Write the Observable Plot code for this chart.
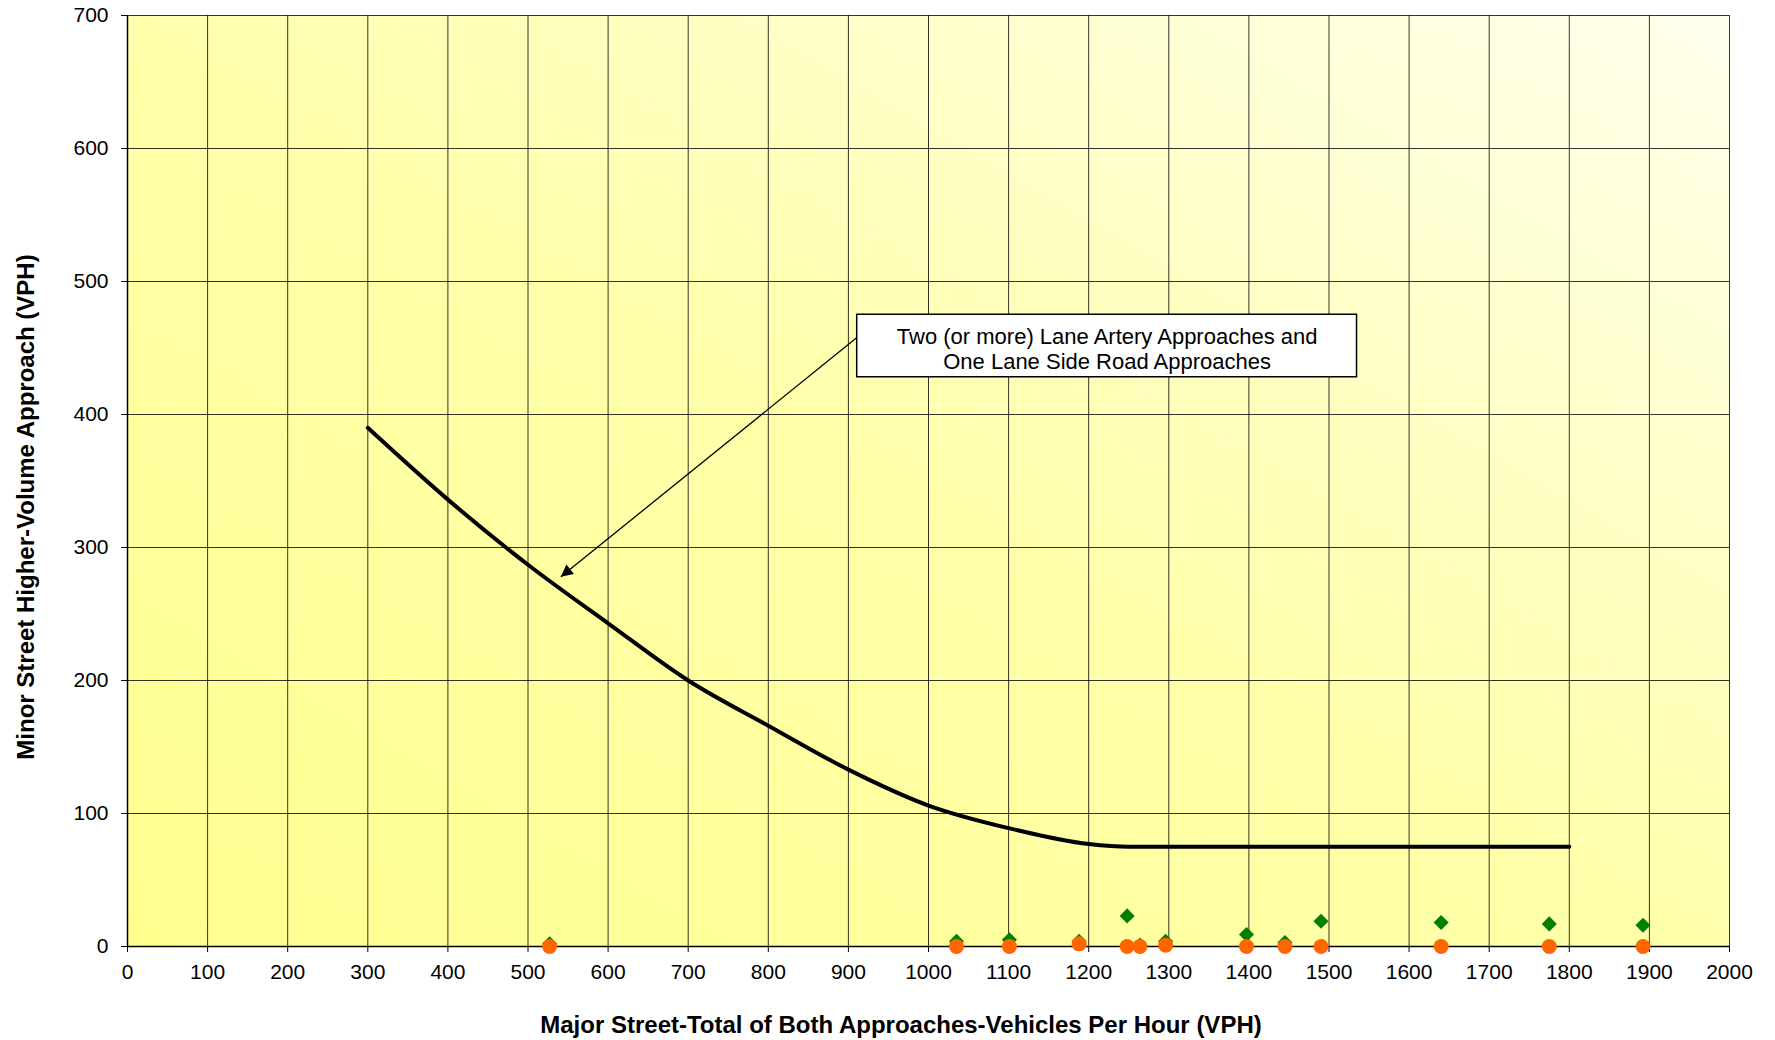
<!DOCTYPE html>
<html>
<head>
<meta charset="utf-8">
<script src="https://cdn.jsdelivr.net/npm/d3@7"></script>
<script src="https://cdn.jsdelivr.net/npm/@observablehq/plot@0.6"></script>
<style>
  html, body { margin: 0; padding: 0; background: #ffffff; }
  #chart { width: 1775px; height: 1040px; }
</style>
</head>
<body>
<div id="chart"></div>
<script>
// ---- data ----
const xTicks = [0, 100, 200, 300, 400, 500, 600, 700, 800, 900, 1000, 1100, 1200, 1300, 1400, 1500, 1600, 1700, 1800, 1900, 2000];
const yTicks = [0, 100, 200, 300, 400, 500, 600, 700];

// warrant curve: Two (or more) lane artery & one lane side road
const curveMajor = [300, 400, 500, 600, 700, 800, 900, 1000, 1100, 1200, 1250, 1300, 1400, 1500, 1600, 1700, 1800];
const curveMinor = [390, 336, 287, 243, 200, 166, 133, 106, 89, 77, 75, 75, 75, 75, 75, 75, 75];

// observed sites
const siteMajor = [527, 1035, 1101, 1188, 1248, 1264, 1296, 1397, 1445, 1490, 1640, 1775, 1892];
const siteGreen = [2, 4, 5, 4, 23, 1, 4, 9, 3, 19, 18, 17, 16];
const siteOrange = [0, 0, 0, 2, 0, 0, 1, 0, 0, 0, 0, 0, 0];

// annotation
const annotationLines = ["Two (or more) Lane Artery Approaches and", "One Lane Side Road Approaches"];
const annotationBox = [911, 1535, 428, 475];    // x1, x2, y1, y2 in data units
const annotationArrow = [911, 458, 541, 278];   // from (x,y) to (x,y) in data units

const xTitle = "Major Street-Total of Both Approaches-Vehicles Per Hour (VPH)";
const yTitle = "Minor Street Higher-Volume Approach (VPH)";

// ---- tables built from arrays ----
const curve = curveMajor.map((x, i) => ({x, y: curveMinor[i]}));
const sites = siteMajor.map((x, i) => ({x, green: siteGreen[i], orange: siteOrange[i]}));
const box = [{x1: annotationBox[0], x2: annotationBox[1], y1: annotationBox[2], y2: annotationBox[3]}];
const boxLabel = [{x: (annotationBox[0] + annotationBox[1]) / 2, y: (annotationBox[2] + annotationBox[3]) / 2, text: annotationLines.join("\n")}];
const arrow = [{x1: annotationArrow[0], y1: annotationArrow[1], x2: annotationArrow[2], y2: annotationArrow[3]}];

const W = 1775, H = 1040;
const mL = 127, mR = 46, mT = 15, mB = 94;
const fmt = d => String(d);

const chart = Plot.plot({
  width: W,
  height: H,
  marginLeft: mL,
  marginRight: mR,
  marginTop: mT,
  marginBottom: mB,
  style: {fontFamily: "'Liberation Sans', Arial, sans-serif", fontSize: "21px", color: "#000", background: "transparent"},
  x: {domain: [0, 2000], label: null},
  y: {domain: [0, 700], label: null},
  marks: [
    Plot.frame({fill: "url(#bgGrad)"}),
    Plot.ruleX(xTicks, {stroke: "#000", strokeOpacity: 0.8, strokeWidth: 1}),
    Plot.ruleY(yTicks, {stroke: "#000", strokeOpacity: 0.8, strokeWidth: 1}),
    Plot.ruleX([0], {stroke: "#000", strokeWidth: 1.5}),
    Plot.ruleY([0], {stroke: "#000", strokeWidth: 1.5}),
    Plot.axisX(xTicks, {tickSize: 6, tickPadding: 12, fontSize: 21, label: null, stroke: "#000", tickFormat: fmt}),
    Plot.axisY(yTicks, {tickSize: 6, tickPadding: 13, fontSize: 21, label: null, stroke: "#000", tickFormat: fmt}),
    Plot.line(curve, {x: "x", y: "y", curve: "monotone-x", stroke: "#000", strokeWidth: 4, strokeLinecap: "round", strokeLinejoin: "round"}),
    Plot.link(arrow, {x1: "x1", y1: "y1", x2: "x2", y2: "y2", stroke: "#000", strokeWidth: 1.3}),
    Plot.rect(box, {x1: "x1", x2: "x2", y1: "y1", y2: "y2", fill: "#fff", stroke: "#000", strokeWidth: 1.5}),
    Plot.text(boxLabel, {x: "x", y: "y", text: "text", fontSize: 22, lineHeight: 1.14, dy: 2, fill: "#000"}),
    Plot.dot(sites, {x: "x", y: "green", symbol: "diamond2", r: 6.8, fill: "#008000", stroke: null}),
    Plot.dot(sites, {x: "x", y: "orange", r: 7.5, fill: "#FF6600", stroke: null})
  ]
});

const svg = d3.select(chart);
const defs = svg.insert("defs", ":first-child");
const grad = defs.append("linearGradient")
  .attr("id", "bgGrad")
  .attr("x1", "0").attr("y1", "1").attr("x2", "1").attr("y2", "0");
grad.append("stop").attr("offset", "0").attr("stop-color", "#FFFF90");
grad.append("stop").attr("offset", "0.5").attr("stop-color", "#FFFFAC");
grad.append("stop").attr("offset", "1").attr("stop-color", "#FFFFEE");

defs.append("marker")
  .attr("id", "arrowHead")
  .attr("viewBox", "0 0 10 10")
  .attr("refX", 10).attr("refY", 5)
  .attr("markerUnits", "userSpaceOnUse")
  .attr("markerWidth", 16).attr("markerHeight", 12)
  .attr("orient", "auto")
  .append("path").attr("d", "M0,0L10,5L0,10Z").attr("fill", "#000");

svg.selectAll('g[aria-label="link"] path').attr("marker-end", "url(#arrowHead)");

// axis titles
svg.append("text")
  .attr("x", 901).attr("y", 1033)
  .attr("text-anchor", "middle")
  .attr("font-weight", "bold")
  .attr("font-size", 24)
  .attr("fill", "#000")
  .text(xTitle);

svg.append("text")
  .attr("transform", "translate(34,507) rotate(-90)")
  .attr("text-anchor", "middle")
  .attr("font-weight", "bold")
  .attr("font-size", 24)
  .attr("fill", "#000")
  .text(yTitle);

document.getElementById("chart").appendChild(chart);
</script>
</body>
</html>
